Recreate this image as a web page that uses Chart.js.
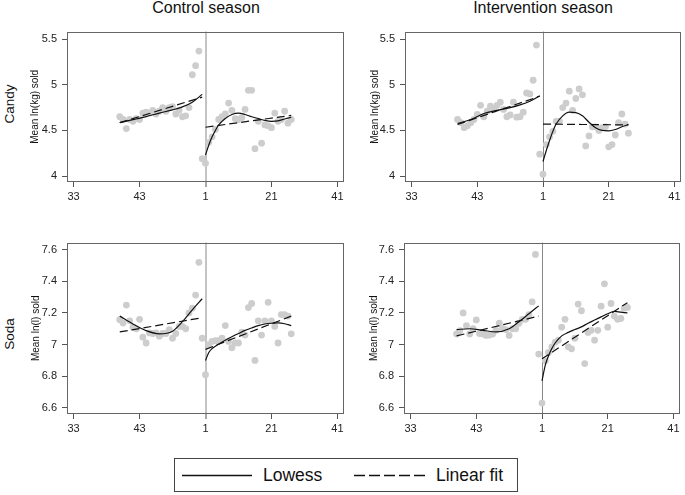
<!DOCTYPE html>
<html>
<head>
<meta charset="utf-8">
<script src="https://cdn.jsdelivr.net/npm/chart.js@4.4.1/dist/chart.umd.min.js"></script>
<style>
  body { margin: 0; width: 685px; height: 495px; background: #fff; position: relative; overflow: hidden;
         font-family: "Liberation Sans", Arial, sans-serif; color: #111; }
  .panel { position: absolute; }
  .coltitle { position: absolute; top: 0; font-size: 16px; line-height: 16px; transform: translateX(-50%); white-space: nowrap; }
  .rowlabel { position: absolute; font-size: 13.5px; line-height: 14px; transform: translate(-50%, -50%) rotate(-90deg); white-space: nowrap; }
  .legend { position: absolute; left: 174px; top: 458px; width: 344px; height: 34px; box-sizing: border-box; border: 1px solid #444; }
  .legend svg { position: absolute; left: 0; top: 0; }
  .legend span { position: absolute; top: 0; font-size: 17.5px; line-height: 32px; }
</style>
</head>
<body>
<div class="coltitle" style="left:206px">Control season</div>
<div class="coltitle" style="left:543px">Intervention season</div>
<div class="rowlabel" style="left:10px;top:104px">Candy</div>
<div class="rowlabel" style="left:10px;top:334px">Soda</div>

<canvas id="candyControl" class="panel" width="350" height="200" style="left:0;top:20px"></canvas>
<canvas id="candyIntervention" class="panel" width="347" height="200" style="left:338px;top:20px"></canvas>
<canvas id="sodaControl" class="panel" width="350" height="221" style="left:0;top:231px"></canvas>
<canvas id="sodaIntervention" class="panel" width="347" height="221" style="left:337px;top:231px"></canvas>

<div class="legend">
  <svg width="342" height="32">
    <line x1="7" y1="16.5" x2="77" y2="16.5" stroke="#111" stroke-width="1.3"></line>
    <line x1="179" y1="16.5" x2="250" y2="16.5" stroke="#111" stroke-width="1.3" stroke-dasharray="11 4"></line>
  </svg>
  <span style="left:88px">Lowess</span>
  <span style="left:261px">Linear fit</span>
</div>

<script>
// x axis: week slots relative to week 1 (tick every 20 slots)
const tickPos = [-40, -20, 0, 20, 40];
const tickWeeks = ['33', '43', '1', '21', '41'];

const weekPos = [-26, -25, -24, -23, -22, -21, -20, -19, -18, -17, -16, -15, -14,
  -13, -12, -11, -10, -9, -8, -7, -6, -5, -4, -3, -2, -1, 0,
  1, 2, 3, 4, 5, 6, 7, 8, 9, 10, 11, 12, 13,
  14, 15, 16, 17, 18, 19, 20, 21, 22, 23, 24, 25, 26];

const lowessPrePos = [-26, -22, -18, -14, -10, -7, -4, -1];
const lowessPostPos = [0, 1, 2, 3, 4, 6, 8, 10, 12, 14, 16, 18, 20, 22, 24, 26];
const fitPrePos = [-26, -1];
const fitPostPos = [0, 26];

const candyTicks = [4, 4.5, 5, 5.5];
const sodaTicks = [6.6, 6.8, 7, 7.2, 7.4, 7.6];

// Candy, control season
const candyControlMeans = [4.65, 4.62, 4.52, 4.62, 4.60, 4.63, 4.62, 4.69, 4.70, 4.69, 4.72, 4.68, 4.71,
  4.75, 4.71, 4.75, 4.76, 4.68, 4.72, 4.65, 4.66, 4.75, 5.11, 5.21, 5.37, 4.19, 4.14,
  4.37, 4.43, 4.51, 4.62, 4.65, 4.68, 4.80, 4.72, 4.63, 4.62, 4.64, 4.73, 4.94,
  4.94, 4.30, 4.60, 4.36, 4.56, 4.55, 4.53, 4.69, 4.60, 4.62, 4.71, 4.58, 4.62];
const candyControlLowessPre = [4.585, 4.618, 4.652, 4.69, 4.725, 4.758, 4.81, 4.895];
const candyControlLowessPost = [4.23, 4.34, 4.43, 4.50, 4.56, 4.63, 4.675, 4.69, 4.675, 4.65, 4.63, 4.61, 4.60, 4.605, 4.625, 4.645];
const candyControlFitPre = [4.585, 4.865];
const candyControlFitPost = [4.535, 4.665];

// Candy, intervention season
const candyInterventionMeans = [4.62, 4.585, 4.53, 4.55, 4.585, 4.62, 4.675, 4.775, 4.65, 4.71, 4.765, 4.73, 4.775,
  4.81, 4.73, 4.65, 4.67, 4.81, 4.645, 4.65, 4.70, 4.91, 4.90, 5.05, 5.435, 4.24, 4.02,
  4.345, 4.43, 4.49, 4.60, 4.60, 4.75, 4.80, 4.93, 4.72, 4.85, 4.955, 4.89, 4.33,
  4.44, 4.54, 4.54, 4.50, 4.53, 4.54, 4.32, 4.345, 4.45, 4.585, 4.68, 4.57, 4.47];
const candyInterventionLowessPre = [4.575, 4.62, 4.685, 4.72, 4.75, 4.78, 4.82, 4.88];
const candyInterventionLowessPost = [4.16, 4.28, 4.39, 4.49, 4.57, 4.66, 4.70, 4.695, 4.66, 4.59, 4.53, 4.50, 4.495, 4.51, 4.54, 4.565];
const candyInterventionFitPre = [4.565, 4.875];
const candyInterventionFitPost = [4.57, 4.56];

// Soda, control season
const sodaControlMeans = [7.157, 7.136, 7.25, 7.15, 7.11, 7.10, 7.16, 7.047, 7.01, 7.074, 7.07, 7.074, 7.053,
  7.07, 7.07, 7.095, 7.04, 7.07, 7.115, 7.115, 7.10, 7.20, 7.23, 7.313, 7.52, 7.04, 6.81,
  7.00, 7.02, 7.025, 7.025, 7.04, 7.12, 7.02, 6.98, 7.01, 7.01, 7.078, 7.06, 7.234,
  7.26, 6.90, 7.15, 7.06, 7.15, 7.267, 7.15, 7.115, 7.01, 7.19, 7.19, 7.18, 7.068];
const sodaControlLowessPre = [7.18, 7.13, 7.088, 7.068, 7.085, 7.145, 7.22, 7.29];
const sodaControlLowessPost = [6.90, 6.95, 6.975, 6.99, 7.003, 7.028, 7.05, 7.07, 7.09, 7.105, 7.12, 7.13, 7.135, 7.137, 7.132, 7.12];
const sodaControlFitPre = [7.08, 7.17];
const sodaControlFitPost = [6.97, 7.18];

// Soda, intervention season
const sodaInterventionMeans = [7.067, 7.088, 7.20, 7.12, 7.067, 7.10, 7.156, 7.07, 7.067, 7.058, 7.06, 7.067, 7.09,
  7.135, 7.10, 7.095, 7.058, 7.10, 7.10, 7.135, 7.16, 7.16, 7.19, 7.27, 7.57, 6.94, 6.63,
  6.897, 6.95, 6.986, 7.015, 7.028, 7.11, 7.16, 6.986, 6.973, 7.04, 7.256, 7.214, 6.88,
  7.077, 7.09, 7.028, 7.09, 7.243, 7.384, 7.11, 7.26, 7.18, 7.16, 7.165, 7.23, 7.235];
const sodaInterventionLowessPre = [7.095, 7.10, 7.09, 7.08, 7.10, 7.145, 7.195, 7.245];
const sodaInterventionLowessPost = [6.77, 6.87, 6.93, 6.975, 7.01, 7.055, 7.077, 7.095, 7.112, 7.135, 7.155, 7.175, 7.195, 7.21, 7.205, 7.20];
const sodaInterventionFitPre = [7.055, 7.18];
const sodaInterventionFitPost = [6.91, 7.265];

const FONT = 'Liberation Sans';
const COLOR_DOT = '#cdcdcd';
const COLOR_LINE = '#111';

const pts = (xs, ys) => xs.map((x, i) => ({ x, y: ys[i] }));

// box around the plot region, like the Stata graph
const framePlugin = {
  id: 'frame',
  beforeDatasetsDraw(chart) {
    const { ctx, chartArea: a } = chart;
    ctx.save();
    ctx.strokeStyle = '#666';
    ctx.lineWidth = 1;
    ctx.strokeRect(Math.round(a.left) + 0.5, Math.round(a.top) + 0.5,
      Math.round(a.width) - 1, Math.round(a.height) - 1);
    ctx.restore();
  },
};

const lineSet = (data, dashed) => ({
  data,
  showLine: true,
  borderColor: COLOR_LINE,
  borderWidth: 1.2,
  borderDash: dashed ? [8, 4] : [],
  pointRadius: 0,
  cubicInterpolationMode: 'monotone',
  order: 1,
});

const createPanel = (id, p) => {
  const datasets = [
    lineSet(pts(lowessPrePos, p.lowessPre), false),
    lineSet(pts(lowessPostPos, p.lowessPost), false),
    lineSet(pts(fitPrePos, p.fitPre), true),
    lineSet(pts(fitPostPos, p.fitPost), true),
    {
      data: pts(weekPos, p.means),
      backgroundColor: COLOR_DOT,
      borderWidth: 0,
      pointRadius: 3.4,
      order: 2,
    },
  ];

  return new Chart(document.getElementById(id), {
    type: 'scatter',
    data: { datasets },
    plugins: [framePlugin],
    options: {
      responsive: false,
      animation: false,
      layout: { padding: { top: 9, right: p.padRight, left: 0, bottom: 0 } },
      plugins: { legend: { display: false }, tooltip: { enabled: false } },
      scales: {
        x: {
          type: 'linear',
          min: -42,
          max: 42,
          afterBuildTicks: (scale) => { scale.ticks = tickPos.map((v) => ({ value: v })); },
          afterFit: (scale) => { scale.height = 38; },
          border: { display: false },
          grid: {
            drawOnChartArea: true,
            color: (ctx) => (ctx.tick && ctx.tick.value === 0 ? p.cutColor : 'rgba(0,0,0,0)'),
            lineWidth: (ctx) => (ctx.tick && ctx.tick.value === 0 ? p.cutWidth : 1),
            tickColor: '#555',
            tickWidth: 1,
            tickLength: 5,
          },
          ticks: {
            padding: 3,
            maxRotation: 0,
            color: '#222',
            font: { family: FONT, size: 11 },
            callback: (v) => tickWeeks[tickPos.indexOf(v)],
          },
        },
        y: {
          min: p.yMin,
          max: p.yMax,
          afterBuildTicks: (scale) => { scale.ticks = p.yTicks.map((v) => ({ value: v })); },
          afterFit: (scale) => { scale.width = 67; },
          border: { display: false },
          grid: { drawOnChartArea: false, tickColor: '#555', tickWidth: 1, tickLength: 5 },
          ticks: {
            padding: 5,
            color: '#222',
            font: { family: FONT, size: 11 },
            callback: (v) => String(v),
          },
          title: {
            display: true,
            text: p.yTitle,
            color: '#111',
            font: { family: FONT, size: 10 },
            padding: { top: p.titleTop, bottom: 0 },
          },
        },
      },
    },
  });
};

createPanel('candyControl', {
  means: candyControlMeans, lowessPre: candyControlLowessPre, lowessPost: candyControlLowessPost,
  fitPre: candyControlFitPre, fitPost: candyControlFitPost,
  yTicks: candyTicks, yMin: 3.935, yMax: 5.583, yTitle: 'Mean ln(kg) sold',
  titleTop: 29, padRight: 6, cutColor: '#c4c4c4', cutWidth: 2,
});
createPanel('candyIntervention', {
  means: candyInterventionMeans, lowessPre: candyInterventionLowessPre, lowessPost: candyInterventionLowessPost,
  fitPre: candyInterventionFitPre, fitPost: candyInterventionFitPost,
  yTicks: candyTicks, yMin: 3.935, yMax: 5.583, yTitle: 'Mean ln(kg) sold',
  titleTop: 31, padRight: 3, cutColor: '#888', cutWidth: 1,
});
createPanel('sodaControl', {
  means: sodaControlMeans, lowessPre: sodaControlLowessPre, lowessPost: sodaControlLowessPost,
  fitPre: sodaControlFitPre, fitPost: sodaControlFitPost,
  yTicks: sodaTicks, yMin: 6.561, yMax: 7.645, yTitle: 'Mean ln(l) sold',
  titleTop: 30, padRight: 6, cutColor: '#c4c4c4', cutWidth: 2,
});
createPanel('sodaIntervention', {
  means: sodaInterventionMeans, lowessPre: sodaInterventionLowessPre, lowessPost: sodaInterventionLowessPost,
  fitPre: sodaInterventionFitPre, fitPost: sodaInterventionFitPost,
  yTicks: sodaTicks, yMin: 6.561, yMax: 7.645, yTitle: 'Mean ln(l) sold',
  titleTop: 31, padRight: 3, cutColor: '#888', cutWidth: 1,
});
</script>
</body>
</html>
